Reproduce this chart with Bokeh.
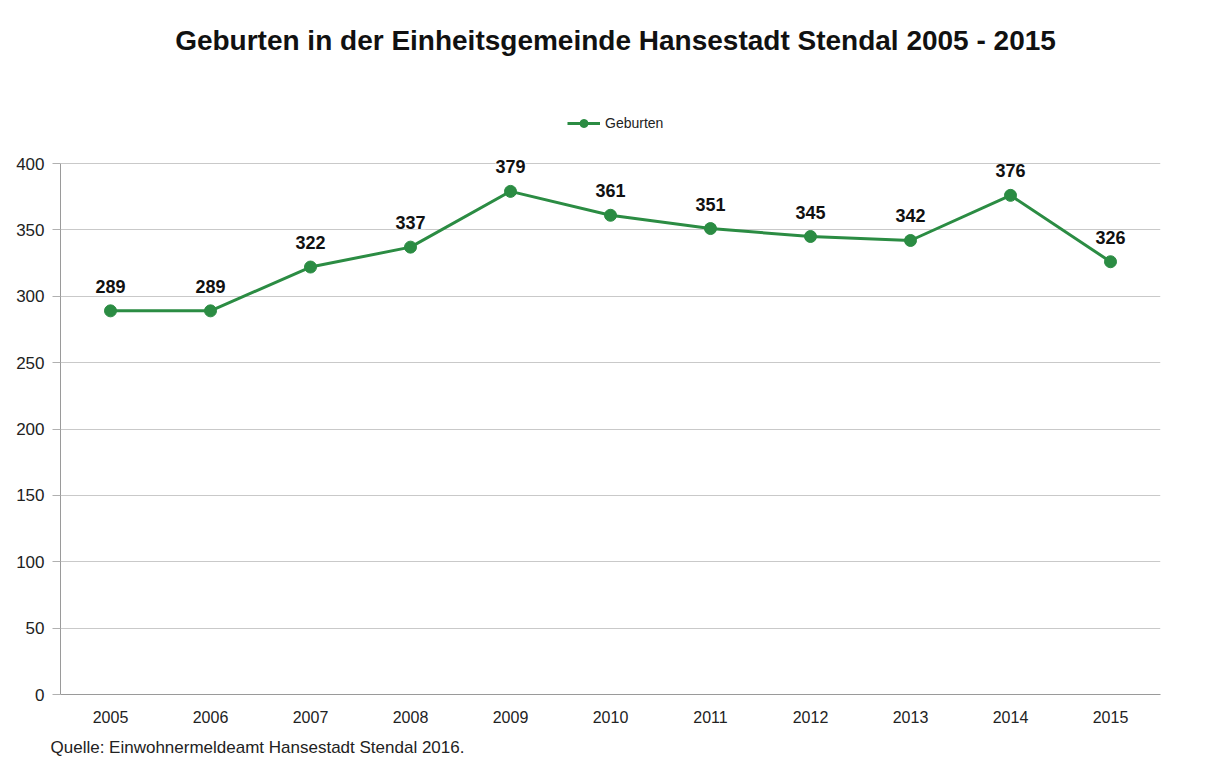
from bokeh.plotting import figure
from bokeh.models import (ColumnDataSource, LabelSet, Label, Legend, LegendItem, Title,
                          FixedTicker, Range1d)
from bokeh.core.properties import value
from bokeh.embed import file_html
from bokeh.resources import INLINE

years = [2005, 2006, 2007, 2008, 2009, 2010, 2011, 2012, 2013, 2014, 2015]
births = [289, 289, 322, 337, 379, 361, 351, 345, 342, 376, 326]
y_ticks = [0, 50, 100, 150, 200, 250, 300, 350, 400]
series_name = "Geburten"
title_text = "Geburten in der Einheitsgemeinde Hansestadt Stendal 2005 - 2015"
source_text = "Quelle: Einwohnermeldeamt Hansestadt Stendal 2016."

GREEN = "#2b8c43"
FONT = "Liberation Sans"

# layout (pixels)
FRAME_W = 1100
PLOT_H = 531            # pixels for the 0..400 value span
FRAME_H = 686           # frame extends above the plot area to hold title/legend
px_per_unit = PLOT_H / (y_ticks[-1] - y_ticks[0])
y_top = y_ticks[0] + FRAME_H / px_per_unit

src = ColumnDataSource(dict(x=years, y=births, lbl=[str(v) for v in births]))

p = figure(frame_width=FRAME_W, frame_height=FRAME_H, output_backend="svg",
           toolbar_location=None,
           x_range=Range1d(years[0] - 0.5, years[-1] + 0.5),
           y_range=Range1d(y_ticks[0], y_top),
           min_border_left=60, min_border_right=35, min_border_top=8,
           min_border_bottom=0)
p.outline_line_color = None

r_line = p.line("x", "y", source=src, line_color=GREEN, line_width=3)
r_pts = p.scatter("x", "y", source=src, size=12, fill_color=GREEN, line_color=GREEN)

labels = LabelSet(x="x", y="y", text="lbl", source=src, text_align="center",
                  text_baseline="bottom", y_offset=18, text_font=value(FONT),
                  text_font_size="18px", text_font_style="bold", text_color="#111111",
                  background_fill_color="white", background_fill_alpha=1.0)
p.add_layout(labels)

# chart title (inside the frame, above the plotted value range)
title_lbl = Label(x=(years[0] + years[-1]) / 2, y=(FRAME_H - 32) / px_per_unit,
                  x_offset=5, text=title_text, text_align="center",
                  text_baseline="middle", text_font=FONT, text_font_size="28px",
                  text_font_style="bold", text_color="#111111")
p.add_layout(title_lbl)

legend = Legend(items=[LegendItem(label=series_name, renderers=[r_line, r_pts])],
                orientation="horizontal", location=(507, FRAME_H - 125),
                label_text_font=FONT, label_text_font_size="14px",
                label_text_color="#222222", border_line_color=None,
                glyph_width=33, glyph_height=20, label_standoff=5,
                padding=0, margin=0, background_fill_alpha=0)
p.add_layout(legend)

src_title = Title(text=source_text, align="left", text_font=FONT,
                  text_font_size="17px", text_font_style="normal",
                  text_color="#222222", standoff=20, offset=-10)
p.add_layout(src_title, "below")

p.xaxis.ticker = FixedTicker(ticks=years)
p.yaxis.ticker = FixedTicker(ticks=y_ticks)
p.yaxis.bounds = (y_ticks[0], y_ticks[-1])
for ax in (p.xaxis, p.yaxis):
    ax.major_label_text_font = FONT
    ax.major_label_text_color = "#222222"
    ax.axis_line_color = "#9a9a9a"
    ax.major_tick_line_color = "#b0b0b0"
    ax.minor_tick_line_color = None
    ax.major_tick_in = 0
p.xaxis.major_label_text_font_size = "16px"
p.yaxis.major_label_text_font_size = "17px"
p.xaxis.major_tick_out = 0
p.yaxis.major_tick_out = 8
p.yaxis.major_label_standoff = 8
p.xaxis.major_label_standoff = 16

p.xgrid.grid_line_color = None
p.ygrid.grid_line_color = "#c9c9c9"
p.ygrid.grid_line_width = 1

open("out.html", "w").write(file_html(p, INLINE))
